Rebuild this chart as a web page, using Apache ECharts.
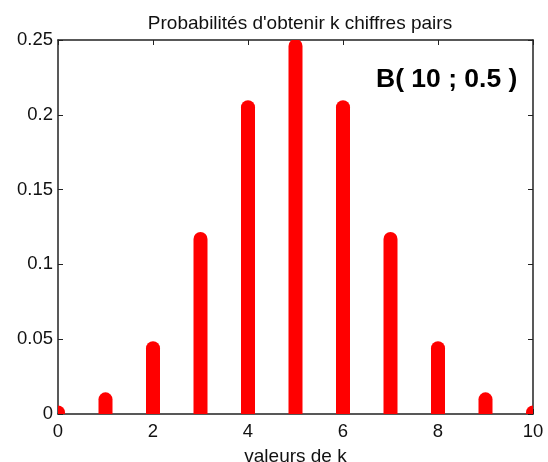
<!DOCTYPE html>
<html>
<head>
<meta charset="utf-8">
<script src="https://cdn.jsdelivr.net/npm/echarts@6/dist/echarts.min.js"></script>
<style>
html, body { margin: 0; padding: 0; background: #fff; }
#chart { width: 548px; height: 462px; }
</style>
</head>
<body>
<div id="chart"></div>
<script>
// valeurs de k et probabilités
var kValues = [0, 1, 2, 3, 4, 5, 6, 7, 8, 9, 10];
var probas = [0.001, 0.0098, 0.044, 0.117, 0.205, 0.246, 0.205, 0.117, 0.044, 0.0098, 0.001];
var xTicks = [0, 2, 4, 6, 8, 10];
var yTicks = [0, 0.05, 0.1, 0.15, 0.2, 0.25];

var chart = echarts.init(document.getElementById('chart'));

var font = '"Liberation Sans", Arial, sans-serif';
var stemData = kValues.map(function (k, i) { return [k, probas[i]]; });

// axe du cadre (haut / droite), sans libellés
function frameAxis(pos, min, max, interval) {
    return {
        type: 'value', position: pos, min: min, max: max, interval: interval,
        axisLine: { show: true, onZero: false, lineStyle: { color: '#222', width: 1.5 } },
        axisTick: { show: true, inside: true, length: 5, lineStyle: { color: '#222' } },
        axisLabel: { show: false },
        splitLine: { show: false }
    };
}

var option = {
    backgroundColor: '#fff',
    animation: false,
    title: {
        text: "Probabilités d'obtenir k chiffres pairs",
        left: 295,
        textAlign: 'center',
        top: 9,
        textStyle: { fontFamily: font, fontSize: 19, fontWeight: 'normal', color: '#111' }
    },
    grid: { left: 58, right: 15, top: 40, bottom: 48, outerBoundsMode: 'none', containLabel: false },
    xAxis: [
        {
            type: 'value', min: xTicks[0], max: xTicks[xTicks.length - 1], interval: 2,
            name: 'valeurs de k', nameLocation: 'middle', nameGap: 33,
            nameTextStyle: { fontFamily: font, fontSize: 19, color: '#111' },
            axisLine: { onZero: false, lineStyle: { color: '#222', width: 1.5 } },
            axisTick: { inside: true, length: 5, lineStyle: { color: '#222' } },
            axisLabel: { fontFamily: font, fontSize: 18.5, color: '#111', margin: 8 },
            splitLine: { show: false }
        },
        frameAxis('top', 0, 10, 2)
    ],
    yAxis: [
        {
            type: 'value', min: yTicks[0], max: yTicks[yTicks.length - 1], interval: 0.05,
            axisLine: { show: true, onZero: false, lineStyle: { color: '#222', width: 1.5 } },
            axisTick: { show: true, inside: true, length: 5, lineStyle: { color: '#222' } },
            axisLabel: { fontFamily: font, fontSize: 18.5, color: '#111', margin: 5 },
            splitLine: { show: false }
        },
        frameAxis('right', 0, 0.25, 0.05)
    ],
    graphic: [
        {
            type: 'text', x: 376, y: 80, z: 10,
            style: {
                text: 'B( 10 ; 0.5 )', fontFamily: font, fontSize: 26.5, fontWeight: 'bold',
                fill: '#000', verticalAlign: 'middle', align: 'left'
            }
        }
    ],
    series: [
        {
            type: 'custom',
            clip: true,
            data: stemData,
            renderItem: function (params, api) {
                var p0 = api.coord([api.value(0), 0]);
                var p1 = api.coord([api.value(0), api.value(1)]);
                return {
                    type: 'line',
                    shape: { x1: p0[0], y1: p0[1], x2: p1[0], y2: p1[1] },
                    style: { stroke: '#ff0000', lineWidth: 14, lineCap: 'round' }
                };
            }
        }
    ]
};

chart.setOption(option);
</script>
</body>
</html>
